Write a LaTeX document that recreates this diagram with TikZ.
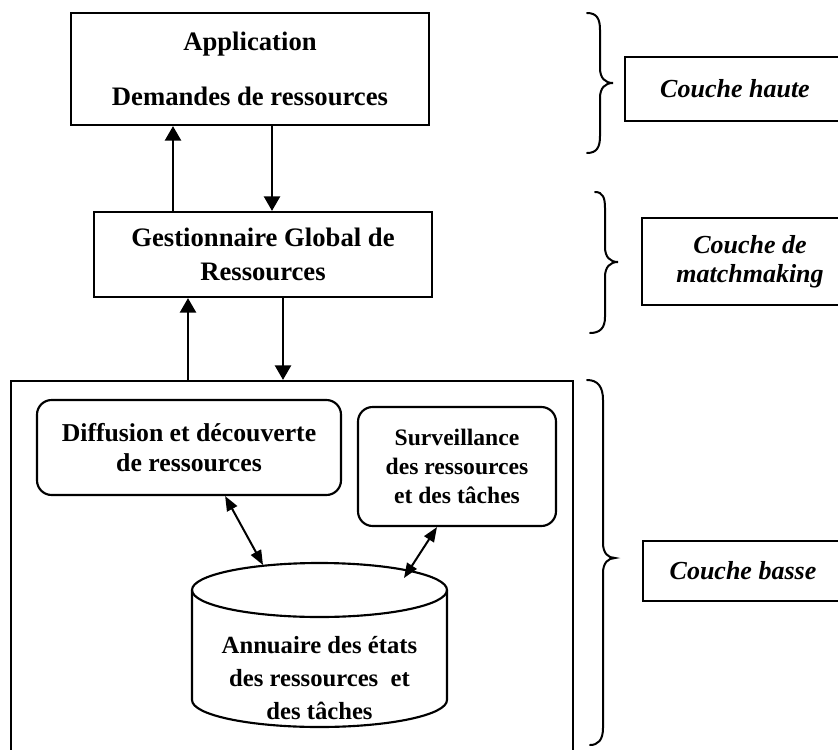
\documentclass[tikz,border=0pt]{standalone}
\usepackage{fontspec}
\setmainfont{Liberation Serif}
\usetikzlibrary{arrows.meta,calc}
\begin{document}
\begin{tikzpicture}[x=0.75pt,y=-0.75pt,
  box/.style={draw,line width=1.6pt,inner sep=0pt,align=center},
  bigtext/.style={font=\bfseries\fontsize{20}{26}\selectfont},
  rbox/.style={box,rounded corners=11pt,font=\bfseries\fontsize{19.3}{22.5}\selectfont},
  layer/.style={box,font=\bfseries\itshape\fontsize{19.5}{21.75}\selectfont},
  varrow/.style={line width=2.1pt,-{Triangle[length=11pt,width=12pt]}},
  biarrow/.style={line width=1.5pt,{Triangle[length=11pt,width=8.5pt]}-{Triangle[length=11pt,width=8.5pt]}},
  bracestyle/.style={line width=1.5pt,line cap=round}]
\clip (0,0) rectangle (838,749);

% upper layer
\node[box,bigtext,font=\bfseries\fontsize{20}{41.25}\selectfont,
  minimum width=268.5pt,minimum height=84pt] (app) at (250,69)
  {Application\\Demandes de ressources};

% matchmaking layer
\node[box,bigtext,minimum width=253.5pt,minimum height=63.75pt] (ggr) at (263,254.5)
  {Gestionnaire Global de\\Ressources};

% lower layer frame
\node[box,minimum width=421.5pt,minimum height=291.75pt] (base) at (292,575.5) {};

\node[rbox,minimum width=228pt,minimum height=71.25pt] (diff) at (189,447.5)
  {Diffusion et découverte\\de ressources};
\node[rbox,font=\bfseries\fontsize{17.7}{21.75}\selectfont,
  minimum width=148.5pt,minimum height=89.25pt] (surv) at (457,466.5)
  {Surveillance\\des ressources\\et des tâches};

% resource directory (cylinder)
\draw[line width=1.6pt] (319.5,590) ellipse [x radius=127.5,y radius=27];
\draw[line width=1.6pt] (192,590) -- (192,700)
  arc[start angle=180,end angle=0,x radius=127.5,y radius=27] -- (447,590);
\node[align=center,inner sep=0pt,font=\bfseries\fontsize{18.5}{24.75}\selectfont]
  (cyl) at (319.5,678) {Annuaire des états\\des ressources~ et\\des tâches};
\coordinate (cylL) at (263,565);
\coordinate (cylR) at (404,578);

% vertical exchanges
\draw[varrow] (173,0 |- ggr.north) -- (173,0 |- app.south);
\draw[varrow] (272,0 |- app.south) -- (272,0 |- ggr.north);
\draw[varrow] (188,0 |- base.north) -- (188,0 |- ggr.south);
\draw[varrow] (283,0 |- ggr.south) -- (283,0 |- base.north);

% exchanges with the directory
\draw[biarrow] ($(diff.south west)!0.618!(diff.south east)$) -- (cylL);
\draw[biarrow] (cylR) -- ($(surv.south west)!0.40!(surv.south east)$);

% braces
\draw[bracestyle] (587,13) .. controls (597,13) and (600,19) .. (600,30) -- (600,68)
  .. controls (600,78) and (605,83) .. (613,83)
  .. controls (605,83) and (600,88) .. (600,98) -- (600,136)
  .. controls (600,147) and (597,153) .. (587,153);
\draw[bracestyle] (595,192) .. controls (603,192) and (605,198) .. (605,208) -- (605,247)
  .. controls (605,257) and (610,262) .. (618,262)
  .. controls (610,262) and (605,267) .. (605,277) -- (605,317)
  .. controls (605,328) and (600,333) .. (590,333);
\draw[bracestyle] (587,380) .. controls (598,380) and (603,387) .. (603,400) -- (603,543)
  .. controls (603,553) and (608,558) .. (615,558)
  .. controls (608,558) and (603,563) .. (603,573) -- (603,728)
  .. controls (603,740) and (598,745) .. (590,745);

% layer names
\node[layer,minimum width=165pt,minimum height=48pt] (haute) at (735,89) {Couche haute};
\node[layer,minimum width=162pt,minimum height=65.25pt] (match) at (750,261.5)
  {Couche de\\matchmaking};
\node[layer,minimum width=150pt,minimum height=45pt] (basse) at (743,571) {Couche basse};
\end{tikzpicture}
\end{document}
